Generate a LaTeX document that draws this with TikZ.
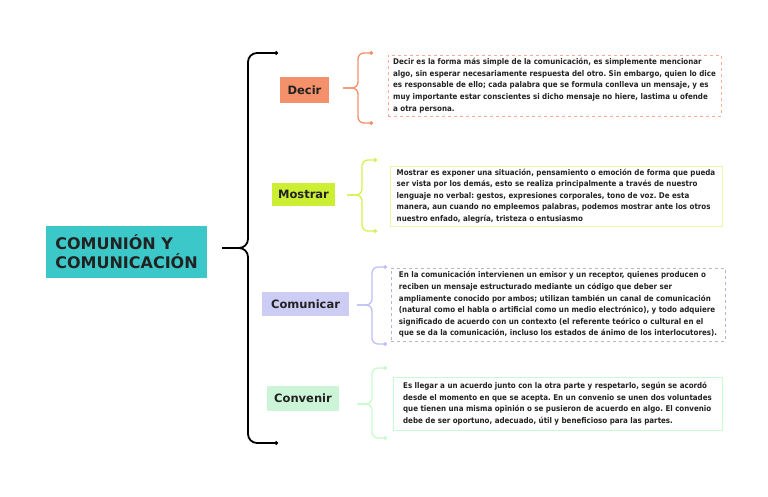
\documentclass[tikz,border=0pt]{standalone}
\usepackage{fontspec}
\newfontfamily\mapfont{DejaVu Sans}
\newfontfamily\notefont{DejaVu Sans Condensed}
\usetikzlibrary{arrows.meta}
\definecolor{mainc}{HTML}{3CC8C8}
\definecolor{decirc}{HTML}{F4906A}
\definecolor{mostrarc}{HTML}{CCEE33}
\definecolor{comunicarc}{HTML}{CCCCF5}
\definecolor{convenirc}{HTML}{CCF5D8}
\definecolor{inkc}{HTML}{222222}
\tikzset{
  tag/.style={fill=#1, text=inkc, inner sep=0pt,
    font=\mapfont\bfseries\fontsize{11.5}{12}\selectfont},
  note/.style={draw=#1, line width=0.8pt, text=inkc, align=left, inner sep=0pt,
    font=\notefont\bfseries\fontsize{7.9}{11.6}\selectfont},
  brace/.style={draw=#1, line width=1.3pt, rounded corners=6pt, -{Circle[length=3.5pt]}},
}
\frenchspacing

\begin{document}
\begin{tikzpicture}[x=1pt,y=-1pt]
\useasboundingbox (0,0) rectangle (768,497);
\node[fill=mainc, text=inkc, minimum width=161pt, minimum height=52pt, align=left,
  font=\mapfont\bfseries\fontsize{16}{19}\selectfont] (main) at (126.5,252)
  {COMUNIÓN Y\\COMUNICACIÓN};

% ramas
\node[tag=decirc, minimum width=49pt, minimum height=26pt] (decir) at (304.5,90) {Decir};
\node[tag=mostrarc, minimum width=63pt, minimum height=23pt] (mostrar) at (303.5,194.5) {Mostrar};
\node[tag=comunicarc, minimum width=87pt, minimum height=24pt] (comunicar) at (305.5,304) {Comunicar};
\node[tag=convenirc, minimum width=72pt, minimum height=25pt] (convenir) at (303,398.5) {Convenir};

% textos
\node[note=decirc!75, dashed, minimum width=333pt, minimum height=61pt] (decir-txt) at (554.5,85.5)
{Decir es la forma más simple de la comunicación, es simplemente mencionar\\
algo, sin esperar necesariamente respuesta del otro. Sin embargo, quien lo dice\\
es responsable de ello; cada palabra que se formula conlleva un mensaje, y es\\
muy importante estar conscientes si dicho mensaje no hiere, lastima u ofende\\
a otra persona.};
\node[note=mostrarc!45, minimum width=332pt, minimum height=60pt] (mostrar-txt) at (556,196)
{Mostrar es exponer una situación, pensamiento o emoción de forma que pueda\\
ser vista por los demás, esto se realiza principalmente a través de nuestro\\
lenguaje no verbal: gestos, expresiones corporales, tono de voz. De esta\\
manera, aun cuando no empleemos palabras, podemos mostrar ante los otros\\
nuestro enfado, alegría, tristeza o entusiasmo};
\node[note=comunicarc!70!gray, dashed, minimum width=334pt, minimum height=73pt] (comunicar-txt) at (558,304.5)
{En la comunicación intervienen un emisor y un receptor, quienes producen o\\
reciben un mensaje estructurado mediante un código que deber ser\\
ampliamente conocido por ambos; utilizan también un canal de comunicación\\
(natural como el habla o artificial como un medio electrónico), y todo adquiere\\
significado de acuerdo con un contexto (el referente teórico o cultural en el\\
que se da la comunicación, incluso los estados de ánimo de los interlocutores).};
\node[note=convenirc!80!green!60, minimum width=329pt, minimum height=53pt] (convenir-txt) at (557.5,403.5)
{Es llegar a un acuerdo junto con la otra parte y respetarlo, según se acordó\\
desde el momento en que se acepta. En un convenio se unen dos voluntades\\
que tienen una misma opinión o se pusieron de acuerdo en algo. El convenio\\
debe de ser oportuno, adecuado, útil y beneficioso para las partes.};

% llave principal
\coordinate (main-tip) at (222,248);
\coordinate (main-top) at (278,53);
\coordinate (main-bot) at (278,443);
\foreach \e in {main-top,main-bot}
  \draw[brace=black, line width=1.8pt, rounded corners=9pt] (main-tip) -- ++(26,0) |- (\e);

% llaves de cada rama
\coordinate (decir-tip) at (343,88);
\coordinate (decir-top) at (373,53);
\coordinate (decir-bot) at (373,123);
\coordinate (mostrar-tip) at (347,195);
\coordinate (mostrar-top) at (377,160);
\coordinate (mostrar-bot) at (377,231);
\coordinate (comunicar-tip) at (357,305);
\coordinate (comunicar-top) at (387,267);
\coordinate (comunicar-bot) at (387,344);
\coordinate (convenir-tip) at (357,404);
\coordinate (convenir-top) at (387,368);
\coordinate (convenir-bot) at (387,438);
\foreach \r/\c in {decir/decirc,mostrar/mostrarc!85,comunicar/comunicarc!80!blue!70,convenir/convenirc!85!green!70}
{
  \foreach \e in {top,bot}
  {
    \draw[brace=\c] (\r-tip) -- ++(15,0) |- (\r-\e);
  }
}
\end{tikzpicture}
\end{document}
